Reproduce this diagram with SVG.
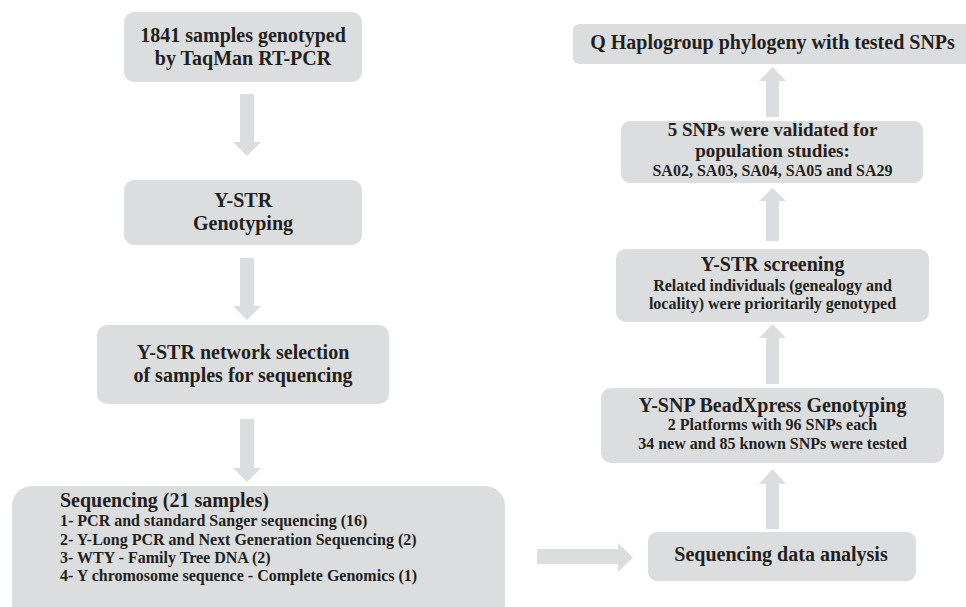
<svg xmlns="http://www.w3.org/2000/svg" width="966" height="607" viewBox="0 0 966 607">
<style>
.box{fill:#dcdddf}
.arr{fill:#dcdddf}
text{font-family:"Liberation Serif","Times New Roman",Tinos,"DejaVu Serif",serif;font-weight:bold;fill:#231f20}
.t{font-size:20px;text-anchor:middle}
.h{font-size:19px;text-anchor:middle}
.s{font-size:16px;text-anchor:middle}
.l{font-size:16px}
</style>
<rect width="966" height="607" fill="#ffffff"/>
<g id="connectors">
<polygon class="arr" points="240,94 254,94 254,142 261,142 247,156 233,142 240,142"/>
<polygon class="arr" points="240,258 254,258 254,306 261,306 247,320 233,306 240,306"/>
<polygon class="arr" points="240,419 254,419 254,468 261,468 247,482 233,468 240,468"/>
<polygon class="arr" points="537,549 618,549 618,543 633,557.5 618,572 618,564 537,564"/>
<polygon class="arr" points="766,529 779,529 779,484 786,484 772.5,469 759,484 766,484"/>
<polygon class="arr" points="766,384 779,384 779,338 786,338 772.5,324 759,338 766,338"/>
<polygon class="arr" points="766,241 779,241 779,201 786,201 772.5,188 759,201 766,201"/>
<polygon class="arr" points="766,117 779,117 779,81 786,81 772.5,67 759,81 766,81"/>
</g>
<g id="n1">
<rect class="box" x="124" y="12" width="238" height="70" rx="10"/>
<text class="t" x="243" y="42">1841 samples genotyped</text>
<text class="t" x="243" y="65">by TaqMan RT-PCR</text>
</g>
<g id="n2">
<rect class="box" x="124" y="180" width="238" height="65" rx="10"/>
<text class="t" x="243" y="207">Y-STR</text>
<text class="t" x="243" y="230">Genotyping</text>
</g>
<g id="n3">
<rect class="box" x="97" y="325" width="292" height="79" rx="10"/>
<text class="t" x="243" y="359">Y-STR network selection</text>
<text class="t" x="243" y="382">of samples for sequencing</text>
</g>
<g id="n4">
<rect class="box" x="12" y="486" width="493" height="140" rx="20"/>
<text x="60" y="507" font-size="20">Sequencing (21 samples)</text>
<text class="l" x="60" y="526">1- PCR and standard Sanger sequencing (16)</text>
<text class="l" x="60" y="545">2- Y-Long PCR and Next Generation Sequencing (2)</text>
<text class="l" x="60" y="563">3- WTY - Family Tree DNA (2)</text>
<text class="l" x="60" y="581">4- Y chromosome sequence - Complete Genomics (1)</text>
</g>
<g id="n5">
<rect class="box" x="648" y="532" width="268" height="49" rx="9"/>
<text class="t" x="781" y="561">Sequencing data analysis</text>
</g>
<g id="n6">
<rect class="box" x="601" y="388" width="343" height="75" rx="10"/>
<text class="t" x="772.5" y="412">Y-SNP BeadXpress Genotyping</text>
<text class="s" x="772.5" y="430">2 Platforms with 96 SNPs each</text>
<text class="s" x="772.5" y="449">34 new and 85 known SNPs were tested</text>
</g>
<g id="n7">
<rect class="box" x="616" y="249" width="313" height="73" rx="10"/>
<text class="t" x="772.5" y="271">Y-STR screening</text>
<text class="s" x="772.5" y="291">Related individuals (genealogy and</text>
<text class="s" x="772.5" y="309">locality) were prioritarily genotyped</text>
</g>
<g id="n8">
<rect class="box" x="621" y="121" width="302" height="62" rx="9"/>
<text class="h" x="772.5" y="136">5 SNPs were validated for</text>
<text class="h" x="772.5" y="157">population studies:</text>
<text class="s" x="772.5" y="176">SA02, SA03, SA04, SA05 and SA29</text>
</g>
<g id="n9">
<rect class="box" x="573" y="24" width="400" height="40" rx="6"/>
<text class="t" x="772.5" y="49">Q Haplogroup phylogeny with tested SNPs</text>
</g>
</svg>
